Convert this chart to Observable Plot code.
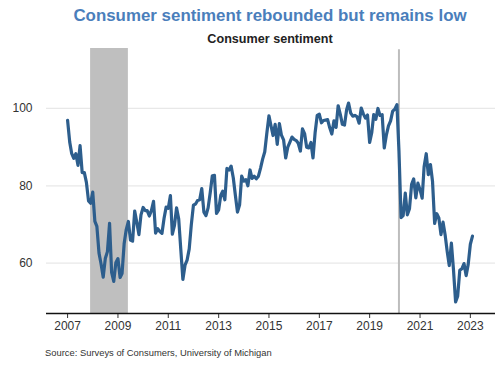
<!DOCTYPE html>
<html>
<head>
<meta charset="utf-8">
<script src="https://cdn.jsdelivr.net/npm/d3@7"></script>
<script src="https://cdn.jsdelivr.net/npm/@observablehq/plot@0.6"></script>
<style>
  body { margin: 0; background: #fff; font-family: "Liberation Sans", Arial, sans-serif; }
  #wrap { width: 500px; }
  .title { height: 30px; line-height: 32px; padding-left: 40px; text-align: center; font-size: 16.9px; font-weight: bold; color: #4a7ebb; white-space: nowrap; }
  .subtitle { height: 16px; line-height: 18px; padding-left: 40px; text-align: center; font-size: 12.6px; font-weight: bold; color: #222; white-space: nowrap; }
  .caption { padding-top: 8px; padding-left: 45px; line-height: 16px; font-size: 9.4px; color: #333; }
  svg { display: block; }
</style>
</head>
<body>
<div id="wrap">
  <div class="title">Consumer sentiment rebounded but remains low</div>
  <div class="subtitle">Consumer sentiment</div>
  <div id="chart"></div>
  <div class="caption">Source: Surveys of Consumers, University of Michigan</div>
</div>
<script>
const startYear = 2007;
const startMonth = 0;
const sentiment = [
  96.9, 91.3, 88.4, 87.1, 88.3, 85.3, 90.4, 83.4, 83.4, 80.9, 76.1, 75.5,
  78.4, 70.8, 69.5, 62.6, 59.8, 56.4, 61.2, 63.0, 70.3, 57.6, 55.3, 60.1,
  61.2, 56.3, 57.3, 65.1, 68.7, 70.8, 66.0, 65.7, 73.5, 70.6, 67.4, 72.5,
  74.4, 73.6, 73.6, 72.2, 73.6, 76.0, 67.8, 68.9, 68.2, 67.7, 71.6, 74.5,
  74.2, 77.5, 67.5, 69.8, 74.3, 71.5, 63.7, 55.8, 59.5, 60.8, 63.7, 69.9,
  75.0, 75.3, 76.2, 76.4, 79.3, 73.2, 72.3, 74.3, 78.3, 82.6, 82.7, 72.9,
  73.8, 77.6, 78.6, 76.4, 84.5, 84.1, 85.1, 82.1, 77.5, 73.2, 75.1, 82.5,
  81.2, 81.6, 80.0, 84.1, 81.9, 82.5, 81.8, 82.5, 84.6, 86.9, 88.8, 93.6,
  98.1, 95.4, 93.0, 95.9, 90.7, 96.1, 93.1, 91.9, 87.2, 90.0, 91.3, 92.6,
  92.0, 91.7, 91.0, 89.0, 94.7, 93.5, 90.0, 89.8, 91.2, 87.2, 93.8, 98.2,
  98.5, 96.3, 96.9, 97.0, 97.1, 95.0, 93.4, 96.8, 95.1, 100.7, 98.5, 95.9,
  95.7, 99.7, 101.4, 98.8, 98.0, 98.2, 97.9, 96.2, 100.1, 98.6, 97.5, 98.3,
  91.2, 93.8, 98.4, 97.2, 100.0, 98.2, 98.4, 89.8, 93.2, 95.5, 96.8, 99.3,
  99.8, 101.0, 89.1, 71.8, 72.3, 78.1, 72.5, 74.1, 80.4, 81.8, 76.9, 80.7,
  79.0, 76.8, 84.9, 88.3, 82.9, 85.5, 81.2, 70.3, 72.8, 71.7, 67.4, 70.6,
  67.2, 62.8, 59.4, 65.2, 58.4, 50.0, 51.5, 58.2, 58.6, 59.9, 56.8, 59.7,
  64.9, 67.0
];
const recessionStart = ["2007-12-01"];
const recessionEnd = ["2009-06-01"];
const eventDates = ["2020-03-01"];
const xTicks = [2007, 2009, 2011, 2013, 2015, 2017, 2019, 2021, 2023];
const yTicks = [60, 80, 100];

const data = sentiment.map((v, i) => ({ date: new Date(startYear, startMonth + i, 1), value: v }));
const recessions = recessionStart.map((s, i) => ({ x1: new Date(s + "T00:00"), x2: new Date(recessionEnd[i] + "T00:00") }));
const events = eventDates.map(d => new Date(d + "T00:00"));
const yMin = 47, yMax = 115.5;

const chart = Plot.plot({
  width: 500,
  height: 291,
  marginTop: 2,
  marginLeft: 46,
  marginRight: 5,
  marginBottom: 24,
  style: { fontFamily: "Liberation Sans, Arial, sans-serif", fontSize: "12px", color: "#333" },
  x: { type: "time", domain: [new Date(2006, 2, 1), new Date(2024, 0, 1)] },
  y: { domain: [yMin, yMax] },
  marks: [
    Plot.gridY(yTicks, { stroke: "#e8e8e8", strokeOpacity: 1, strokeWidth: 1.2 }),
    Plot.rectX(recessions, { x1: "x1", x2: "x2", y1: yMin, y2: yMax, fill: "#bfbfbf" }),
    Plot.ruleX(events, { y1: yMin, y2: yMax - 0.3, stroke: "#bdbdbd", strokeWidth: 2 }),
    Plot.axisY(yTicks, { tickSize: 0, tickPadding: 14, fontSize: 12, fill: "#333", label: null }),
    Plot.axisX(xTicks.map(y => new Date(y, 0, 1)), { tickFormat: d3.timeFormat("%Y"), tickSize: 5, tickPadding: 3, fontSize: 12, fill: "#333", stroke: "#333", label: null }),
    Plot.ruleY([yMin], { stroke: "#111", strokeWidth: 1.6 }),
    Plot.line(data, { x: "date", y: "value", stroke: "#2d5e8d", strokeWidth: 3.2, strokeLinejoin: "round" })
  ]
});
document.getElementById("chart").appendChild(chart);
</script>
</body>
</html>
